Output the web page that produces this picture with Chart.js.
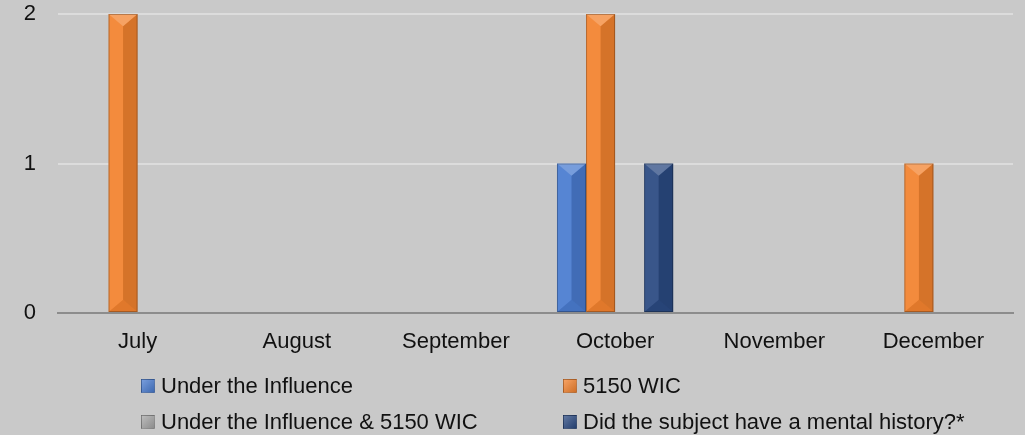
<!DOCTYPE html>
<html>
<head>
<meta charset="utf-8">
<script src="https://cdn.jsdelivr.net/npm/chart.js@4"></script>
<style>
  html, body { margin: 0; padding: 0; background: #c9c9c9; }
  #wrap { position: relative; width: 1025px; height: 435px; }
  #legend {
    position: absolute; left: 141px; top: 372px;
    display: grid; grid-template-columns: 422px 420px; row-gap: 8px;
    font-family: 'Liberation Sans', Arial, sans-serif; font-size: 22px; color: #111;
  }
  .item { display: flex; align-items: center; height: 28px; white-space: nowrap; }
  .box { width: 14px; height: 14px; margin-right: 6px; box-sizing: border-box; }
</style>
</head>
<body>
<div id="wrap">
  <canvas id="myChart" width="1025" height="435"></canvas>
  <div id="legend"></div>
</div>
<script>
'use strict';

const months = ['July', 'August', 'September', 'October', 'November', 'December'];
const seriesNames = [
    'Under the Influence',
    '5150 WIC',
    'Under the Influence & 5150 WIC',
    'Did the subject have a mental history?*',
];
const underInfluence = [0, 0, 0, 1, 0, 0];
const wic5150 = [2, 0, 0, 2, 0, 1];
const influenceAndWic = [0, 0, 0, 0, 0, 0];
const mentalHistory = [0, 0, 0, 1, 0, 0];
const yTicks = [0, 1, 2];

const colors = ['#4a7cd0', '#f3832f', '#a5a5a5', '#2b4a82'];
const seriesValues = [underInfluence, wic5150, influenceAndWic, mentalHistory];

// bevel look like the office chart
const bevel = {
    id: 'bevel',
    afterDatasetsDraw(chart) {
        const c = chart.ctx;
        chart.data.datasets.forEach((ds, i) => {
            const meta = chart.getDatasetMeta(i);
            meta.data.forEach((bar) => {
                const h = bar.base - bar.y;
                if (h < 1) return;
                const l = bar.x - bar.width / 2;
                const r = bar.x + bar.width / 2;
                const t = bar.y;
                const b = bar.base;
                const d = Math.min(bar.width * 0.42, h / 2);
                c.save();
                // right half darker
                c.fillStyle = 'rgba(0,0,0,0.12)';
                c.beginPath();
                c.moveTo(bar.x, t + d);
                c.lineTo(r, t);
                c.lineTo(r, b);
                c.lineTo(bar.x, b - d);
                c.closePath();
                c.fill();
                // left half lighter
                c.fillStyle = 'rgba(255,255,255,0.07)';
                c.beginPath();
                c.moveTo(bar.x, t + d);
                c.lineTo(l, t);
                c.lineTo(l, b);
                c.lineTo(bar.x, b - d);
                c.closePath();
                c.fill();
                // top facet
                c.fillStyle = 'rgba(255,255,255,0.25)';
                c.beginPath();
                c.moveTo(l, t);
                c.lineTo(r, t);
                c.lineTo(bar.x, t + d);
                c.closePath();
                c.fill();
                // bottom facet
                c.fillStyle = 'rgba(0,0,0,0.08)';
                c.beginPath();
                c.moveTo(l, b);
                c.lineTo(r, b);
                c.lineTo(bar.x, b - d);
                c.closePath();
                c.fill();
                c.strokeStyle = 'rgba(0,0,0,0.25)';
                c.lineWidth = 1;
                c.strokeRect(l + 0.5, t + 0.5, bar.width - 1, h - 1);
                c.restore();
            });
        });
    },
};

const data = {
    labels: months,
    datasets: seriesNames.map((name, i) => ({
        label: name,
        data: seriesValues[i],
        backgroundColor: colors[i],
        borderWidth: 0,
        barPercentage: 1,
        categoryPercentage: 0.73,
    })),
};

const font = { family: "'Liberation Sans', Arial, sans-serif", size: 22 };

const myChart = new Chart(document.getElementById('myChart'), {
    type: 'bar',
    data: data,
    plugins: [bevel],
    options: {
        responsive: false,
        animation: false,
        layout: { padding: { top: 14, right: 12, bottom: 72, left: 0 } },
        plugins: {
            legend: { display: false },
            tooltip: { enabled: false },
        },
        scales: {
            x: {
                grid: { display: false, drawTicks: false },
                border: { display: true, color: '#8c8c8c', width: 2 },
                ticks: { color: '#111', font: font, padding: 16 },
                afterFit: (scale) => {
                    scale.height = 50;
                    scale.paddingLeft = 0;
                    scale.paddingRight = 0;
                },
            },
            y: {
                min: 0,
                max: 2,
                afterBuildTicks: (scale) => {
                    scale.ticks = yTicks.map((v) => ({ value: v }));
                },
                afterFit: (scale) => {
                    scale.width = 58;
                    scale.paddingTop = 0;
                    scale.paddingBottom = 0;
                },
                grid: {
                    color: (ctx) => (ctx.tick.value === 0 ? '#8c8c8c' : '#dcdcdc'),
                    lineWidth: 2,
                    drawTicks: false,
                },
                border: { display: false },
                ticks: { color: '#111', font: font, padding: 22 },
            },
        },
    },
});

// legend in two columns
const legendEl = document.getElementById('legend');
seriesNames.forEach((name, i) => {
    const item = document.createElement('div');
    item.className = 'item';
    const box = document.createElement('span');
    box.className = 'box';
    box.style.background = 'linear-gradient(135deg, rgba(255,255,255,0.25), rgba(0,0,0,0.15)), ' + colors[i];
    box.style.border = '1px solid rgba(0,0,0,0.2)';
    const txt = document.createElement('span');
    txt.textContent = name;
    item.appendChild(box);
    item.appendChild(txt);
    legendEl.appendChild(item);
});
</script>
</body>
</html>
